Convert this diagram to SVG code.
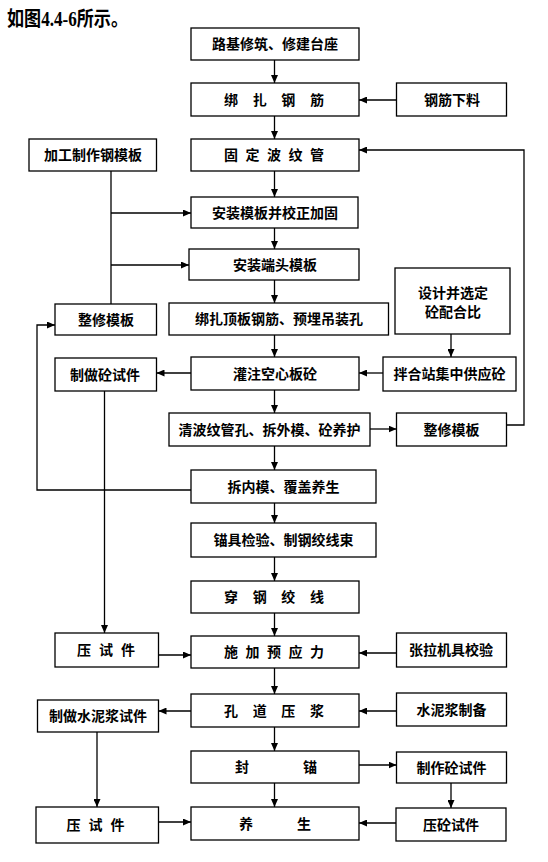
<svg xmlns="http://www.w3.org/2000/svg" width="548" height="862" viewBox="0 0 548 862">
<style>
.b{fill:#fff;stroke:#000;stroke-width:1.3}
.t{font-family:"Noto Sans CJK SC","Noto Sans CJK JP",sans-serif;font-weight:bold;font-size:14px;text-anchor:middle;fill:#000}
.c{fill:none;stroke:#000;stroke-width:1.3}
.a{marker-end:url(#ah)}
</style>
<defs>
<marker id="ah" markerUnits="userSpaceOnUse" markerWidth="8" markerHeight="7" refX="8" refY="3.5" orient="auto">
<path d="M0,0 L8,3.5 L0,7 z" fill="#000"/>
</marker>
</defs>
<rect width="548" height="862" fill="#fff"/>
<text x="7" y="26" font-family="'Liberation Serif','Noto Sans CJK SC',serif" font-weight="bold" font-size="20" textLength="121" lengthAdjust="spacingAndGlyphs">如图4.4-6所示。</text>

<g id="connectors">
<path class="c a" d="M274.5,60 V83"/>
<path class="c a" d="M274.5,116 V139"/>
<path class="c a" d="M274.5,171 V197"/>
<path class="c a" d="M274.5,228 V249"/>
<path class="c a" d="M274.5,280 V303"/>
<path class="c a" d="M274.5,335 V357"/>
<path class="c a" d="M274.5,390 V413"/>
<path class="c a" d="M274.5,446 V470"/>
<path class="c a" d="M274.5,503 V523"/>
<path class="c a" d="M274.5,557 V581"/>
<path class="c a" d="M274.5,613 V636"/>
<path class="c a" d="M274.5,668 V694"/>
<path class="c a" d="M274.5,727 V751"/>
<path class="c a" d="M274.5,783 V807"/>
<path class="c a" d="M396.5,100 H359"/>
<path class="c a" d="M506.5,425 H524 V150 H359"/>
<path class="c" d="M111,171 V304"/>
<path class="c a" d="M111,213 H191"/>
<path class="c a" d="M111,265 H189"/>
<path class="c a" d="M191,490 H37 V325 H55"/>
<path class="c a" d="M451,334 V357"/>
<path class="c a" d="M383,373 H359"/>
<path class="c a" d="M191,373 H156.5"/>
<path class="c a" d="M370,429 H396.5"/>
<path class="c a" d="M104.5,391 V633"/>
<path class="c a" d="M158.5,655 H191"/>
<path class="c a" d="M396.5,653 H359"/>
<path class="c a" d="M191,711 H158.5"/>
<path class="c a" d="M396.5,711 H359"/>
<path class="c a" d="M97,732 V807"/>
<path class="c a" d="M359,765 H396.5"/>
<path class="c a" d="M451,783 V808"/>
<path class="c a" d="M158.5,822 H191"/>
<path class="c a" d="M396,823 H359"/>
</g>

<g id="n1"><rect class="b" x="191" y="28" width="168" height="32"/><text class="t" x="275" y="49">路基修筑、修建台座</text></g>
<g id="n2"><rect class="b" x="191" y="83" width="168" height="33"/><text class="t" x="231 259.7 288.3 317" y="104.5">绑扎钢筋</text></g>
<g id="n2r"><rect class="b" x="396.5" y="83" width="110" height="33"/><text class="t" x="452" y="104.5">钢筋下料</text></g>
<g id="n3"><rect class="b" x="191" y="139" width="168" height="32"/><text class="t" x="231 252.5 274 295.5 317" y="160">固定波纹管</text></g>
<g id="n3l"><rect class="b" x="29" y="139" width="127.5" height="32"/><text class="t" x="93" y="160">加工制作钢模板</text></g>
<g id="n4"><rect class="b" x="191" y="197" width="167" height="31"/><text class="t" x="275" y="217.5">安装模板并校正加固</text></g>
<g id="n5"><rect class="b" x="189" y="249" width="170" height="31"/><text class="t" x="275" y="269.5">安装端头模板</text></g>
<g id="n6"><rect class="b" x="169" y="303" width="219.5" height="32"/><text class="t" x="279" y="324">绑扎顶板钢筋、预埋吊装孔</text></g>
<g id="n6l"><rect class="b" x="55" y="304" width="101.5" height="31"/><text class="t" x="106" y="324.5">整修模板</text></g>
<g id="n6r"><rect class="b" x="395" y="268" width="115" height="66"/><text class="t" x="453" y="298">设计并选定</text><text class="t" x="453" y="317">砼配合比</text></g>
<g id="n7"><rect class="b" x="191" y="357" width="168" height="33"/><text class="t" x="275" y="378.5">灌注空心板砼</text></g>
<g id="n7l"><rect class="b" x="55" y="358" width="101.5" height="33"/><text class="t" x="105" y="379.5">制做砼试件</text></g>
<g id="n7r"><rect class="b" x="383" y="357" width="133" height="34"/><text class="t" x="449.5" y="379">拌合站集中供应砼</text></g>
<g id="n8"><rect class="b" x="169" y="413" width="201" height="33"/><text class="t" x="269.5" y="434.5">清波纹管孔、拆外模、砼养护</text></g>
<g id="n8r"><rect class="b" x="396.5" y="413" width="110" height="33"/><text class="t" x="451.5" y="434.5">整修模板</text></g>
<g id="n9"><rect class="b" x="191" y="470" width="185" height="33"/><text class="t" x="283.5" y="491.5">拆内模、覆盖养生</text></g>
<g id="n10"><rect class="b" x="191" y="523" width="185" height="34"/><text class="t" x="283.5" y="545">锚具检验、制钢绞线束</text></g>
<g id="n11"><rect class="b" x="191" y="581" width="168" height="32"/><text class="t" x="231 259.7 288.3 317" y="602">穿钢绞线</text></g>
<g id="n12"><rect class="b" x="191" y="636" width="168" height="32"/><text class="t" x="231 252.5 274 295.5 317" y="657">施加预应力</text></g>
<g id="n12l"><rect class="b" x="55" y="633" width="103.5" height="34"/><text class="t" x="84 106 128" y="655">压试件</text></g>
<g id="n12r"><rect class="b" x="396.5" y="633" width="110" height="34"/><text class="t" x="451" y="655">张拉机具校验</text></g>
<g id="n13"><rect class="b" x="191" y="694" width="168" height="33"/><text class="t" x="231 259.7 288.3 317" y="715.5">孔道压浆</text></g>
<g id="n13l"><rect class="b" x="37.5" y="700" width="121" height="32"/><text class="t" x="98" y="721">制做水泥浆试件</text></g>
<g id="n13r"><rect class="b" x="396.5" y="693" width="110" height="33"/><text class="t" x="451.5" y="714.5">水泥浆制备</text></g>
<g id="n14"><rect class="b" x="191" y="751" width="168" height="32"/><text class="t" x="242 310" y="772">封锚</text></g>
<g id="n14r"><rect class="b" x="396.5" y="752" width="110" height="31"/><text class="t" x="451.5" y="772.5">制作砼试件</text></g>
<g id="n15"><rect class="b" x="191" y="807" width="168" height="33"/><text class="t" x="246 304" y="828.5">养生</text></g>
<g id="n15l"><rect class="b" x="36" y="807" width="122.5" height="36"/><text class="t" x="73.5 95.5 117.5" y="830">压试件</text></g>
<g id="n15r"><rect class="b" x="396" y="808" width="110" height="33"/><text class="t" x="451" y="829.5">压砼试件</text></g>
</svg>
